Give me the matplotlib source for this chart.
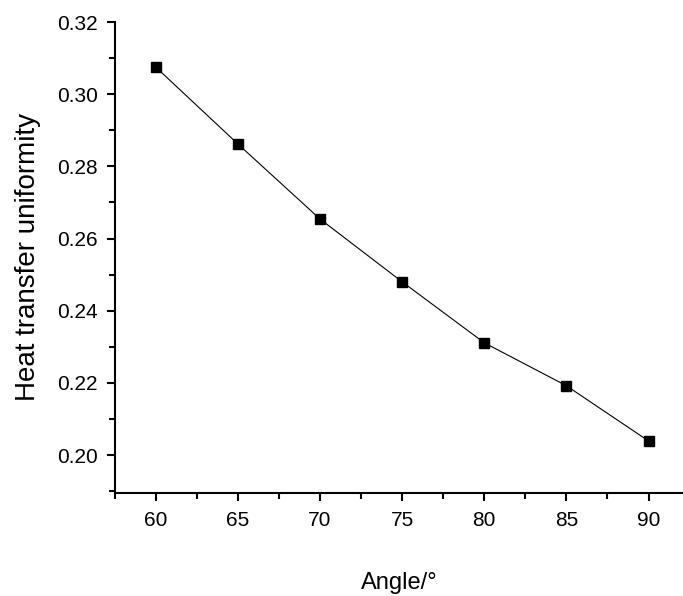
import numpy as np
import matplotlib.pyplot as plt
from matplotlib.ticker import MultipleLocator

plt.rcParams['font.family'] = ['Liberation Sans', 'DejaVu Sans']

angulos = [60, 65, 70, 75, 80, 85, 90]
uniformidade = [0.3075, 0.2862, 0.2654, 0.2480, 0.2311, 0.2192, 0.2039]

fig = plt.figure(figsize=(6.83, 5.96), dpi=100)
ax = fig.add_axes([0.168, 0.173, 0.832, 0.79])

ax.plot(angulos, uniformidade, color='black', lw=0.8,
        marker='s', markersize=6.5, markerfacecolor='black')

ax.set_xlim(57.5, 92.1)
ax.set_ylim(0.1895, 0.32)
ax.xaxis.set_major_locator(MultipleLocator(5))
ax.xaxis.set_minor_locator(MultipleLocator(2.5))
ax.yaxis.set_major_locator(MultipleLocator(0.02))
ax.yaxis.set_minor_locator(MultipleLocator(0.01))
ax.yaxis.set_major_formatter(plt.FormatStrFormatter('%.2f'))

for s in ['top', 'right']:
    ax.spines[s].set_visible(False)
for s in ['left', 'bottom']:
    ax.spines[s].set_linewidth(1.5)

ax.tick_params(which='major', direction='out', length=6, width=1.5, labelsize=15)
ax.tick_params(which='minor', direction='out', length=4, width=1.5)
ax.tick_params(axis='x', pad=7)
ax.tick_params(axis='y', pad=6)

ax.set_xlabel('Angle/°', fontsize=17, labelpad=30)
ax.set_ylabel('Heat transfer uniformity', fontsize=20, labelpad=12)

fig.savefig('out.png', dpi=100)
